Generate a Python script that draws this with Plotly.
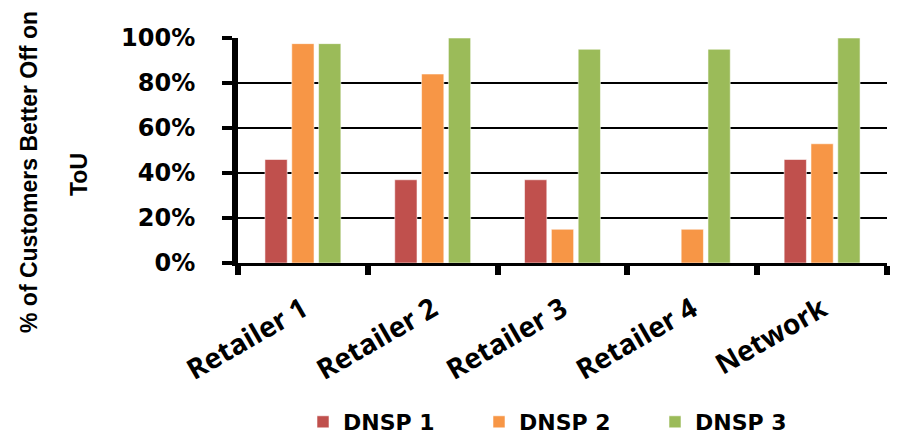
import plotly.graph_objects as go

# Share of customers who would be better off on a time-of-use tariff
categories = ["Retailer 1", "Retailer 2", "Retailer 3", "Retailer 4", "Network"]
dnsp1 = [0.46, 0.37, 0.37, 0.0, 0.46]
dnsp2 = [0.975, 0.84, 0.15, 0.15, 0.53]
dnsp3 = [0.975, 1.00, 0.95, 0.95, 1.00]
series_names = ["DNSP 1", "DNSP 2", "DNSP 3"]
series_colors = ["#C0504D", "#F79646", "#9BBB59"]
y_ticks = [0, 0.2, 0.4, 0.6, 0.8, 1.0]
y_tick_text = ["0%", "20%", "40%", "60%", "80%", "100%"]

BOLD_WIDE = "DejaVu Sans, Verdana, sans-serif"
TITLE_FONT = "Liberation Sans, Arial, sans-serif"

W, H = 898, 441
ML, MR, MT, MB = 238, 11, 38, 178

fig = go.Figure()
for name, vals, col in zip(series_names, [dnsp1, dnsp2, dnsp3], series_colors):
    fig.add_trace(go.Bar(
        name=name, x=categories, y=vals,
        marker=dict(color=col, line=dict(color="rgba(255,255,255,0.55)", width=1)),
    ))

plot_w = W - ML - MR
plot_h = H - MT - MB


def px_to_paper(px, py):
    """Convert page pixel coordinates into paper coordinates."""
    return (px - ML) / plot_w, (H - MB - py) / plot_h


t1x, t1y = px_to_paper(29, 172)
t2x, t2y = px_to_paper(79, 175)
lgx, lgy = px_to_paper(567, 443)

fig.update_layout(
    width=W, height=H,
    margin=dict(l=ML, r=MR, t=MT, b=MB, autoexpand=False),
    paper_bgcolor="white", plot_bgcolor="white",
    barmode="group", bargap=0.38, bargroupgap=0.17,
    showlegend=True,
    legend=dict(
        orientation="h", x=lgx, xanchor="center", y=lgy, yanchor="bottom",
        font=dict(family=BOLD_WIDE, size=22, color="black", weight="bold"),
        entrywidth=131, entrywidthmode="pixels",
        bgcolor="rgba(0,0,0,0)", borderwidth=0,
    ),
    xaxis=dict(
        type="category", categoryorder="array", categoryarray=categories,
        automargin=False,
        showline=True, linecolor="black", linewidth=3,
        ticks="outside", tickson="boundaries", ticklen=9, tickwidth=6, tickcolor="black",
        tickangle=-30, ticklabelstandoff=16,
        tickfont=dict(family="Open Sans, sans-serif", size=28, color="black", weight="bold"),
        showgrid=False, zeroline=False,
    ),
    yaxis=dict(
        range=[0, 1], tickvals=y_ticks, ticktext=y_tick_text,
        automargin=False,
        showline=True, linecolor="black", linewidth=6,
        ticks="outside", ticklen=10, tickwidth=4, tickcolor="black",
        ticklabelstandoff=22,
        tickfont=dict(family=BOLD_WIDE, size=24, color="black", weight="bold"),
        showgrid=True, gridcolor="black", gridwidth=2,
        zeroline=False,
    ),
    annotations=[
        dict(text="% of Customers Better Off on", x=t1x, y=t1y, xref="paper", yref="paper",
             showarrow=False, textangle=-90, xanchor="center", yanchor="middle",
             font=dict(family=TITLE_FONT, size=23, color="black", weight="bold")),
        dict(text="ToU", x=t2x, y=t2y, xref="paper", yref="paper",
             showarrow=False, textangle=-90, xanchor="center", yanchor="middle",
             font=dict(family=TITLE_FONT, size=23, color="black", weight="bold")),
    ],
)

fig.write_html("out.html")
